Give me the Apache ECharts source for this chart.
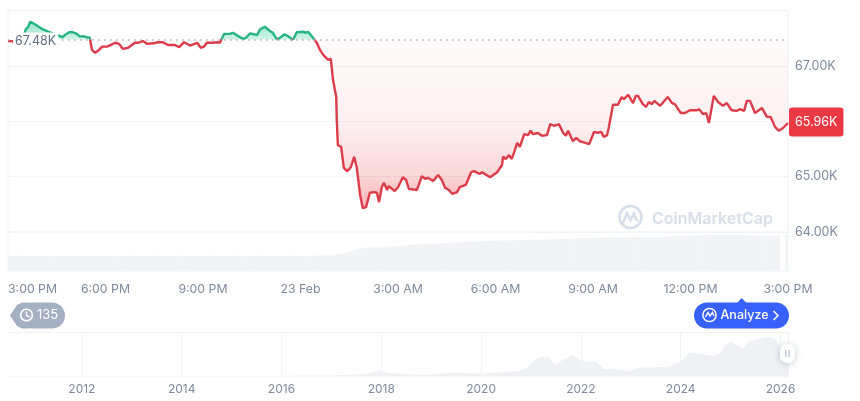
<!DOCTYPE html>
<html>
<head>
<meta charset="utf-8">
<style>html,body{margin:0;padding:0;background:#fff}#c{width:860px;height:401px}</style>
<script src="https://cdn.jsdelivr.net/npm/echarts@6/dist/echarts.min.js"></script>
</head>
<body>
<div id="c"></div>
<script>
const basePrice = 67.48;
const lastPriceLabel = '65.96K';
const baseLabel = '67.48K';
const timeLabels = ['3:00 PM','6:00 PM','9:00 PM','23 Feb','3:00 AM','6:00 AM','9:00 AM','12:00 PM','3:00 PM'];
const yearTicks = [2012,2014,2016,2018,2020,2022,2024,2026];
// minutes since 3:00 PM
const minutes = [0,7,17,26,33,37,41,52,63,74,85,96,100,105,113,120,127,133,138,146,151,155,161,168,174,183,198,205,212,222,234,240,249,257,268,277,286,295,308,316,325,336,349,356,362,367,378,386,391,399,410,415,425,434,439,447,460,465,474,484,489,497,500,510,517,526,533,545,550,554,563,570,576,582,591,596,600,606,607,609,615,620,626,633,639,644,650,655,661,668,676,681,685,690,694,700,703,714,720,729,735,740,755,764,770,775,785,794,801,807,814,820,829,834,845,855,860,871,875,890,903,912,914,919,925,930,934,940,945,953,960,965,969,978,986,995,1001,1008,1017,1025,1030,1034,1043,1049,1056,1060,1073,1082,1089,1095,1100,1106,1109,1117,1126,1133,1137,1145,1154,1159,1163,1172,1178,1183,1189,1193,1204,1218,1226,1231,1242,1250,1259,1272,1276,1283,1289,1294,1303,1311,1320,1327,1336,1346,1351,1359,1364,1370,1379,1392,1401,1408,1416,1423,1431,1440];
// price, thousand USD
const prices = [67.45,67.45,67.40,67.43,67.67,67.70,67.80,67.74,67.67,67.62,67.58,67.54,67.52,67.56,67.61,67.61,67.58,67.53,67.54,67.52,67.51,67.29,67.24,67.29,67.35,67.35,67.42,67.40,67.31,67.33,67.42,67.42,67.45,67.40,67.41,67.43,67.43,67.38,67.38,67.34,67.43,67.37,67.42,67.33,67.35,67.42,67.42,67.43,67.42,67.58,67.58,67.60,67.54,67.49,67.51,67.59,67.56,67.66,67.71,67.63,67.60,67.47,67.51,67.57,67.54,67.47,67.61,67.62,67.60,67.62,67.51,67.42,67.29,67.20,67.11,67.13,66.75,66.44,66.02,65.57,65.54,65.16,65.10,65.17,65.36,65.16,64.67,64.43,64.45,64.71,64.72,64.71,64.54,64.81,64.89,64.76,64.83,64.74,64.81,64.99,64.94,64.78,64.76,65.01,64.96,64.98,64.92,65.03,64.94,64.80,64.76,64.69,64.72,64.81,64.85,65.08,65.10,65.05,65.08,64.99,65.08,65.21,65.36,65.32,65.39,65.32,65.43,65.61,65.54,65.77,65.75,65.83,65.77,65.79,65.74,65.75,65.95,65.92,65.95,65.79,65.74,65.83,65.64,65.70,65.64,65.63,65.59,65.81,65.79,65.81,65.72,65.75,65.88,66.30,66.30,66.44,66.40,66.48,66.33,66.46,66.46,66.31,66.26,66.35,66.31,66.37,66.28,66.44,66.33,66.31,66.15,66.15,66.20,66.20,66.22,66.13,66.15,65.97,66.46,66.35,66.28,66.33,66.20,66.19,66.22,66.19,66.37,66.37,66.15,66.24,66.08,66.08,65.90,65.83,65.88,65.97];
// traded volume, billion USD, one bar per 5 minutes
const volumes = [
15.3,15.2,15.3,15.4,15.3,15.2,15.3,15.3,15.2,15.3,15.3,15.3,15.2,15.3,15.4,15.3,15.3,15.2,15.3,15.3,
15.2,15.3,15.3,15.4,15.3,15.3,15.2,15.3,15.3,15.2,15.3,15.3,15.4,15.3,15.2,15.3,15.3,15.2,15.3,15.3,
15.3,15.2,15.3,15.3,15.4,15.3,15.3,15.2,15.3,15.3,15.2,15.3,15.3,15.3,15.4,15.3,15.2,15.3,15.3,15.2,
15.3,15.3,15.2,15.3,15.4,15.3,15.3,15.2,15.3,15.3,15.3,15.2,15.3,15.3,15.4,15.3,15.3,15.2,15.3,15.3,
15.2,15.3,15.3,15.4,15.3,15.3,15.2,15.3,15.3,15.2,15.3,15.3,15.4,15.3,15.2,15.3,15.3,15.2,15.3,15.3,
15.3,15.2,15.3,15.3,15.4,15.3,15.3,15.2,15.3,15.3,15.2,15.3,15.3,15.4,15.4,15.4,15.5,15.5,15.5,15.7,
16,16.5,17,17.5,18,19,19.5,20.2,21,21.8,
22.7,23.3,23.4,23.5,23.6,23.8,23.9,24,24,24.1,
24.3,24.5,24.7,24.9,25,25.3,25.6,25.9,26.1,26.4,
26.7,26.6,26.5,26.7,26.8,26.9,27,27.1,27.3,27.4,
27.6,27.8,28,28.1,28.3,28.4,28.6,28.8,28.9,29,
29.2,29.3,29.4,29.5,29.6,29.8,29.9,30,30.1,30.2,
30.3,30.4,30.4,30.5,30.6,30.6,30.7,30.8,30.8,30.9,
31,31,31,31.1,31.2,31.3,31.3,31.4,31.5,31.5,
31.6,31.7,31.7,31.8,31.9,32,32.1,32.2,32.3,32.4,
32.6,32.7,32.8,33,33.1,33.2,33.3,33.3,33.4,33.5,
33.5,33.5,33.6,33.6,33.7,33.7,33.7,33.8,33.8,33.8,
33.8,33.9,33.9,33.9,34,34,34,34,34,34,
34,34.1,34.2,34.3,34.4,34.6,34.8,35,35.1,35.2,
35.3,35.4,35.5,35.5,35.6,35.6,35.7,35.7,35.8,35.8,
35.9,35.9,36,36,36,36,36,36,35.9,35.9,
35.8,35.8,35.7,35.7,35.6,35.6,35.5,35.5,35.4,35.3,
35.3,35.2,35.1,35,35,0,0,36];
// overview history
const historyYears = [2010.52,2012,2014,2016,2017,2017.7,2017.97,2018.13,2018.37,2018.98,2019.44,2019.6,2020,2020.3,2020.76,2020.92,2021.1,2021.25,2021.38,2021.48,2021.6,2021.77,2021.85,2021.96,2022.15,2022.3,2022.45,2022.7,2022.95,2023.2,2023.6,2023.75,2023.98,2024.18,2024.38,2024.65,2024.78,2024.89,2025,2025.13,2025.25,2025.35,2025.55,2025.8,2025.9,2026,2026.15];
const historyPrices = [0,0,0.5,0.9,2,5.5,19,10,6.5,3.5,10,10.5,7.5,10,16,26,54,61,58,35,48,61,67,51,45,45,23,21,17,27,29,29,45,74,70,64,70,99,109,99,86,109,118,125,115,93,80];

const RED='#dc3d4a', GREEN='#28b482', GRID='#f1f3f6', MUTED='#808a9d', FONT='Inter';
const series = minutes.map((t,i)=>[t,prices[i]]);
const above=[], below=[], aboveLine=[], belowLine=[];
series.forEach((p,i)=>{
  if(i>0){const q=series[i-1];
    if((q[1]-basePrice)*(p[1]-basePrice)<0){
      const c=q[0]+(basePrice-q[1])/(p[1]-q[1])*(p[0]-q[0]);
      above.push([c,basePrice]);below.push([c,basePrice]);
      aboveLine.push([c,basePrice]);belowLine.push([c,basePrice]);}}
  above.push([p[0],Math.max(p[1],basePrice)]);
  below.push([p[0],Math.min(p[1],basePrice)]);
  aboveLine.push([p[0],p[1]>=basePrice?p[1]:null]);
  belowLine.push([p[0],p[1]<=basePrice?p[1]:null]);
});
const volumeData = volumes.map((v,i)=>[2.5+5*i,v]);
const historyData = historyYears.map((y,i)=>[y,historyPrices[i]]);
const vline = v=>({xAxis:v});

const chart = echarts.init(document.getElementById('c'));
chart.setOption({
  animation:false,
  textStyle:{fontFamily:FONT},
  grid:[
    {left:8,right:72,top:10.67,height:221.33,show:true,borderColor:GRID,borderWidth:1,backgroundColor:'transparent'},
    {left:8,right:72,top:232,height:39,show:true,borderColor:GRID,borderWidth:1,backgroundColor:'transparent'},
    {left:8,right:72,top:332,height:44}
  ],
  xAxis:[
    {gridIndex:0,type:'value',min:0,max:1440,interval:180,axisLine:{show:false},axisTick:{show:false},axisLabel:{show:false},splitLine:{show:false}},
    {gridIndex:1,type:'value',min:0,max:1440,interval:180,axisLine:{show:false},axisTick:{show:false},splitLine:{show:false},
     axisLabel:{color:MUTED,fontFamily:FONT,fontSize:12.3,margin:12,alignMinLabel:'left',hideOverlap:false,showMinLabel:true,showMaxLabel:true,
       formatter:v=>timeLabels[Math.round(v/180)]}},
    {gridIndex:2,type:'value',min:2010.52,max:2026.15,axisLine:{show:false},axisTick:{show:false},splitLine:{show:false},
     axisLabel:{customValues:yearTicks,color:MUTED,fontFamily:FONT,fontSize:12,margin:7,formatter:v=>String(Math.round(v))}}
  ],
  yAxis:[
    {gridIndex:0,type:'value',position:'right',min:64,max:68,interval:1,axisLine:{show:false},axisTick:{show:false},
     splitLine:{show:true,lineStyle:{color:GRID,width:1}},
     axisLabel:{color:MUTED,fontFamily:FONT,fontSize:12.5,margin:7,showMaxLabel:false,formatter:v=>v.toFixed(2)+'K'}},
    {gridIndex:1,type:'value',min:0,max:39,show:false},
    {gridIndex:2,type:'value',min:0,max:140,interval:140,axisLine:{show:false},axisTick:{show:false},axisLabel:{show:false},
     splitLine:{show:true,lineStyle:{color:GRID,width:1}}}
  ],
  series:[
    {name:'above',type:'line',xAxisIndex:0,yAxisIndex:0,data:above,showSymbol:false,silent:true,z:2,lineStyle:{width:0},
     areaStyle:{origin:basePrice,opacity:1,color:{type:'linear',x:0,y:0,x2:0,y2:1,colorStops:[{offset:0,color:'rgba(22,199,132,0.45)'},{offset:1,color:'rgba(22,199,132,0.2)'}]}},
     markLine:{silent:true,symbol:'none',label:{show:false},lineStyle:{color:'#a6b0c3',type:[1.5,4.5],width:1.5},data:[{yAxis:basePrice}]}},
    {name:'below',type:'line',xAxisIndex:0,yAxisIndex:0,data:below,showSymbol:false,silent:true,z:2,lineStyle:{width:0},
     areaStyle:{origin:basePrice,opacity:1,color:{type:'linear',x:0,y:0,x2:0,y2:1,colorStops:[{offset:0,color:'rgba(234,57,67,0.02)'},{offset:0.5,color:'rgba(234,57,67,0.08)'},{offset:0.8,color:'rgba(234,57,67,0.2)'},{offset:1,color:'rgba(234,57,67,0.38)'}]}}},
    {name:'priceAbove',type:'line',xAxisIndex:0,yAxisIndex:0,data:aboveLine,showSymbol:false,silent:true,z:4,connectNulls:false,itemStyle:{color:GREEN},lineStyle:{width:2.4,color:GREEN}},
    {name:'priceBelow',type:'line',xAxisIndex:0,yAxisIndex:0,data:belowLine,showSymbol:false,silent:true,z:4,connectNulls:false,itemStyle:{color:RED},lineStyle:{width:2.4,color:RED}},
    {name:'volume',type:'bar',xAxisIndex:1,yAxisIndex:1,data:volumeData,barWidth:3,itemStyle:{color:'#f1f3f6'},silent:true},
    {name:'history',type:'line',xAxisIndex:2,yAxisIndex:2,data:historyData,showSymbol:false,silent:true,lineStyle:{width:0},
     areaStyle:{color:'#eff1f4',opacity:1},
     markLine:{silent:true,symbol:'none',label:{show:false},lineStyle:{color:GRID,type:'solid',width:1},data:yearTicks.concat([2026.15]).map(vline)}},
    {name:'baseLabel',type:'scatter',xAxisIndex:0,yAxisIndex:0,data:[[51,basePrice]],symbolSize:0,silent:true,z:10,itemStyle:{opacity:1},
     label:{show:true,position:'inside',offset:[0,2],formatter:baseLabel,color:'#616e85',fontFamily:FONT,fontSize:12.5,backgroundColor:'#fff',padding:[3,2,2,2]}},
    {name:'lastLabel',type:'scatter',xAxisIndex:0,yAxisIndex:0,data:[[1440,prices[prices.length-1]]],symbolSize:0,silent:true,z:10,clip:false,itemStyle:{opacity:1},
     label:{show:true,position:'right',distance:1,offset:[0,-1],formatter:lastPriceLabel,color:'#fff',fontFamily:FONT,fontSize:12.5,backgroundColor:'#ea3943',borderRadius:3,padding:[8,6,8,6]}}
  ],
  graphic:[
    {type:'group',silent:true,z:1,children:[
      {type:'circle',shape:{cx:630.5,cy:217,r:11},style:{fill:'none',stroke:'#d8deea',lineWidth:2.6}},
      {type:'polyline',shape:{points:[[623,223],[627,213.5],[630.5,220],[634,213.5],[636,219],[638,221]]},style:{fill:'none',stroke:'#d8deea',lineWidth:2.6}},
      {type:'text',style:{x:652,y:219,text:'CoinMarketCap',fill:'#d8deea',font:'600 16px Inter',verticalAlign:'middle'}}
    ]},
    {type:'group',silent:true,children:[
      {type:'polygon',shape:{points:[[10,315.5],[17,305],[22,302.5],[30,302.5],[30,328.5],[22,328.5],[17,326]]},style:{fill:'#a6b0c3'}},
      {type:'rect',shape:{x:20,y:302.5,width:45,height:26,r:13},style:{fill:'#a6b0c3'}},
      {type:'circle',shape:{cx:26.5,cy:315,r:5.8},style:{fill:'none',stroke:'#fff',lineWidth:1.6}},
      {type:'polyline',shape:{points:[[26.5,311.5],[26.5,315.5],[29.5,317]]},style:{fill:'none',stroke:'#fff',lineWidth:1.4}},
      {type:'text',style:{x:37,y:315.5,text:'135',fill:'#fff',font:'13px Inter',verticalAlign:'middle'}}
    ]},
    {type:'group',silent:true,children:[
      {type:'polygon',shape:{points:[[737,303],[741.7,298],[746.4,303]]},style:{fill:'#3861fb'}},
      {type:'rect',shape:{x:694,y:302.5,width:95,height:26,r:13},style:{fill:'#3861fb'}},
      {type:'circle',shape:{cx:709.5,cy:315,r:6.6},style:{fill:'none',stroke:'#fff',lineWidth:1.5}},
      {type:'polyline',shape:{points:[[705.5,317],[708,312.5],[710,316],[712.5,312.5],[714,316]]},style:{fill:'none',stroke:'#fff',lineWidth:1.4}},
      {type:'text',style:{x:720.5,y:315.5,text:'Analyze',fill:'#fff',font:'500 12.5px Inter',verticalAlign:'middle'}},
      {type:'polyline',shape:{points:[[773.5,311],[778,315.5],[773.5,320]]},style:{fill:'none',stroke:'#fff',lineWidth:1.5}}
    ]},
    {type:'group',silent:true,children:[
      {type:'rect',z:100,shape:{x:780,y:344,width:15,height:19,r:7},style:{fill:'#fff',shadowBlur:7,shadowColor:'rgba(88,102,126,0.35)',shadowOffsetY:1}},
      {type:'rect',z:101,shape:{x:785,y:350,width:1.5,height:7},style:{fill:'#c5ccd8'}},
      {type:'rect',z:101,shape:{x:788.5,y:350,width:1.5,height:7},style:{fill:'#c5ccd8'}}
    ]}
  ]
});
</script>
</body>
</html>
